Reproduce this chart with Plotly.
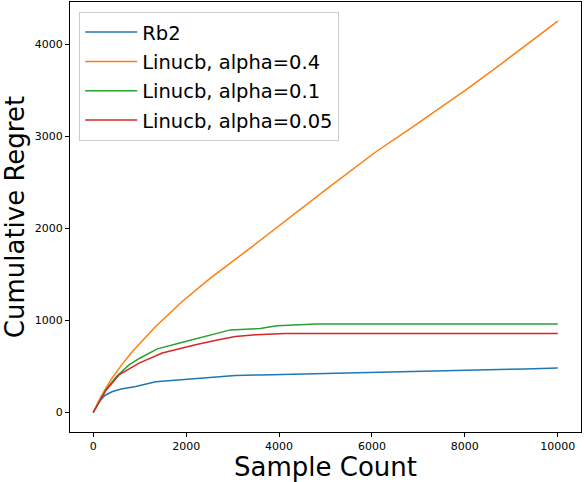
import plotly.graph_objects as go

# values
rb2_x = [0, 130, 250, 415, 600, 915, 1343, 1700, 2272, 2880, 3058, 3600, 4129, 4450, 5500, 6500, 7500, 8500, 9300, 10000]
rb2_y = [0, 120, 185, 228, 255, 283, 335, 350, 374, 398, 402, 408, 415, 418, 428, 440, 452, 465, 474, 483]

a04_x = [0, 150, 379, 600, 844, 1343, 1915, 2522, 3379, 4165, 5000, 6094, 6808, 8022, 8807, 10000]
a04_y = [0, 160, 355, 510, 663, 935, 1207, 1460, 1787, 2095, 2420, 2837, 3080, 3508, 3798, 4255]

a01_x = [0, 272, 500, 771, 1000, 1380, 1986, 2500, 2951, 3594, 3951, 4450, 4800, 6000, 8000, 10000]
a01_y = [0, 247, 390, 518, 590, 692, 772, 840, 898, 913, 942, 955, 961, 961, 961, 961]

a005_x = [0, 272, 557, 986, 1487, 2201, 2700, 3058, 3500, 3951, 4129, 6000, 8000, 10000]
a005_y = [0, 240, 410, 537, 646, 736, 790, 826, 845, 855, 860, 860, 860, 860]

x_ticks = [0, 2000, 4000, 6000, 8000, 10000]
y_ticks = [0, 1000, 2000, 3000, 4000]

fig = go.Figure()
fig.add_trace(go.Scatter(x=rb2_x, y=rb2_y, mode='lines', name='Rb2',
                         line=dict(color='#1f77b4', width=1.5), legendgroup='a'))
fig.add_trace(go.Scatter(x=a04_x, y=a04_y, mode='lines', name='Linucb, alpha=0.4',
                         line=dict(color='#ff7f0e', width=1.5), legendgroup='b'))
fig.add_trace(go.Scatter(x=a01_x, y=a01_y, mode='lines', name='Linucb, alpha=0.1',
                         line=dict(color='#2ca02c', width=1.5), legendgroup='c'))
fig.add_trace(go.Scatter(x=a005_x, y=a005_y, mode='lines', name='Linucb, alpha=0.05',
                         line=dict(color='#d62728', width=1.5), legendgroup='d'))

axis_style = dict(showgrid=False, zeroline=False, showline=True, linecolor='black',
                  linewidth=1, mirror=True, ticks='outside', ticklen=4, tickcolor='black',
                  automargin=False,
                  tickfont=dict(family='DejaVu Sans', size=11, color='black'))

fig.update_layout(
    width=584, height=482,
    margin=dict(l=70, r=3, t=2, b=50),
    paper_bgcolor='white', plot_bgcolor='white',
    font=dict(family='DejaVu Sans', color='black'),
    xaxis=dict(range=[-500, 10500], tickvals=x_ticks, ticktext=[str(v) for v in x_ticks],
               title=dict(text='Sample Count', font=dict(size=26)), **axis_style),
    yaxis=dict(range=[-212, 4462], tickvals=y_ticks, ticktext=[str(v) for v in y_ticks],
               title=dict(text='Cumulative Regret', font=dict(size=26)), **axis_style),
    legend=dict(x=0.018, y=0.977, xanchor='left', yanchor='top',
                font=dict(size=19.5), bordercolor='#cccccc', borderwidth=1,
                bgcolor='rgba(255,255,255,0.8)', tracegroupgap=1, itemwidth=52),
    showlegend=True,
)

# page body has a default margin, drop it so the figure sits at the corner
fig.write_html("out.html", config={'displayModeBar': False},
               post_script="document.body.style.margin='0';")
